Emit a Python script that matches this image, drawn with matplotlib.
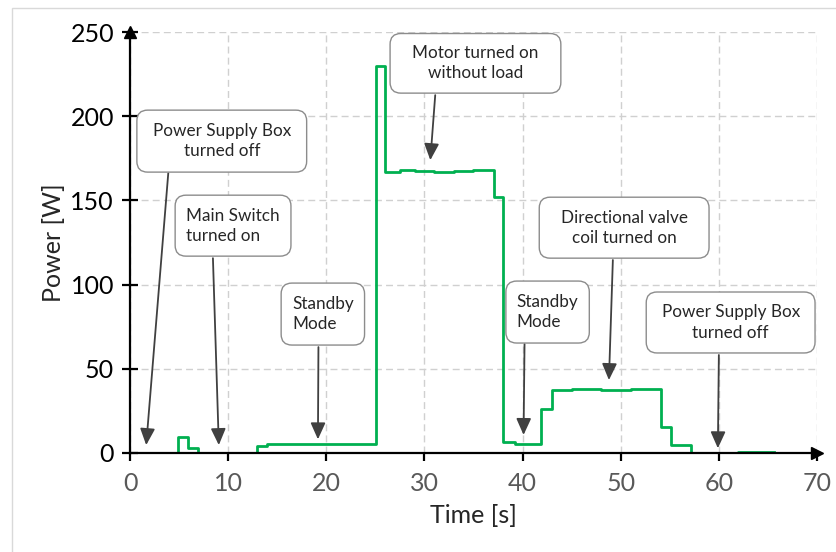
import matplotlib.pyplot as plt
from matplotlib.patches import FancyBboxPatch, Rectangle

plt.rcParams['font.family'] = ['Lato', 'DejaVu Sans']

# measured power trace (step changes)
time_s = [0, 4.85, 5.9, 6.9, 12.9, 13.95, 16.0, 19.0, 22.0, 25.07, 26.0, 27.5, 29.0,
          31.0, 33.0, 35.0, 36.2, 37.1, 38.0, 39.2, 41.9, 43.0, 45.0, 48.0, 51.0,
          54.1, 55.1, 57.2, 62.0, 65.6]
power_w = [0, 9.3, 2.8, 0, 4.2, 5.4, 5.6, 5.3, 5.5, 230, 167.0, 168.0, 167.5,
           166.8, 167.6, 168.2, 167.8, 152, 6.5, 5.3, 26, 37.5, 38.0, 37.6, 38.1,
           15.5, 5.0, 0, 0.4, 0.4]

note_texts = ["Power Supply Box\nturned off", "Main Switch\nturned on", "Standby\nMode",
              "Motor turned on\nwithout load", "Directional valve\ncoil turned on",
              "Standby\nMode", "Power Supply Box\nturned off"]
note_align = ['center', 'left', 'left', 'center', 'center', 'left', 'center']
# box extents: (t0, t1, p0, p1)
note_boxes = [(0.7, 18.0, 166.8, 203.6), (4.6, 16.4, 116.9, 153.1), (15.4, 23.9, 64.1, 100.9),
              (26.5, 43.9, 213.7, 249.1), (41.7, 59.0, 115.7, 151.9), (38.3, 46.8, 65.3, 102.1),
              (52.6, 69.8, 59.4, 95.6)]
arrow_from = [(3.9, 166.2), (8.45, 115.7), (19.2, 62.9), (31.1, 212.5), (49.2, 114.6),
              (40.2, 64.7), (60.0, 58.2)]
arrow_to = [(1.65, 4.7), (9.05, 4.7), (19.15, 8.1), (30.6, 173.9), (48.8, 43.3),
            (40.1, 10.7), (59.9, 2.8)]

fig = plt.figure(figsize=(8.36, 5.52), dpi=100)
fig.patches.append(Rectangle((12 / 836, -0.1), 1.0, (552 - 8) / 552 + 0.1,
                             transform=fig.transFigure, fill=False,
                             edgecolor='#d9d9d9', lw=1.0))
ax = fig.add_axes([130 / 836, 99 / 552, 687 / 836, 421 / 552])

ax.plot(time_s, power_w, drawstyle='steps-post', color='#00B050', lw=2, zorder=3)

ax.set_xlim(0, 70)
ax.set_ylim(0, 250)
ax.set_xticks(range(0, 71, 10))
ax.set_yticks(range(0, 251, 50))
ax.grid(True, ls=(0, (5, 3)), color='#d0d0d0', lw=1.0)
ax.spines['top'].set_visible(False)
ax.spines['right'].set_visible(False)
for s in ['left', 'bottom']:
    ax.spines[s].set_linewidth(1.6)
    ax.spines[s].set_zorder(4)
ax.tick_params(axis='y', direction='inout', length=11, width=1.6, labelsize=18,
               labelcolor='black', pad=6)
ax.tick_params(axis='x', direction='out', length=6, width=1.6, labelsize=18,
               labelcolor='#595959', pad=8)
ax.set_xlabel('Time [s]', fontsize=18, color='#262626', labelpad=6)
ax.set_ylabel('Power [W]', fontsize=18, color='#262626', labelpad=4)

# axis arrow heads
ax.plot(1, 0, '>', color='black', ms=9, transform=ax.transAxes, clip_on=False, zorder=5)
ax.plot(0, 1, '^', color='black', ms=9, transform=ax.transAxes, clip_on=False, zorder=5)

aspect = 9.8 / 1.6848
for txt, al, (x0, x1, y0, y1), st, tip in zip(note_texts, note_align, note_boxes,
                                              arrow_from, arrow_to):
    box = FancyBboxPatch((x0, y0), x1 - x0, y1 - y0,
                         boxstyle='round,pad=0,rounding_size=1.1',
                         mutation_aspect=aspect, facecolor='white',
                         edgecolor='#8c8c8c', lw=1.0, zorder=6, clip_on=False)
    ax.add_patch(box)
    if al == 'center':
        tx = (x0 + x1) / 2
    else:
        tx = x0 + 1.1
    ax.text(tx, (y0 + y1) / 2, txt, ha=al, va='center', multialignment=al,
            fontsize=12.3, color='#262626', linespacing=1.33, zorder=7)
    ax.annotate('', xy=tip, xytext=st,
                arrowprops=dict(arrowstyle='-|>,head_length=1.0,head_width=0.45',
                                mutation_scale=10, color='#404040', lw=1.3,
                                shrinkA=0, shrinkB=0), zorder=5)

fig.savefig('out.png', dpi=100)
